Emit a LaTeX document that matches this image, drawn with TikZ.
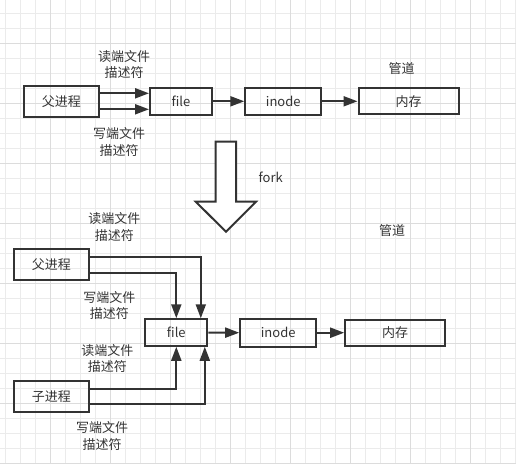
\documentclass[tikz,border=0pt]{standalone}
\usepackage{fontspec}
\setmainfont{Noto Sans CJK SC}
\usetikzlibrary{arrows.meta}
\definecolor{ink}{HTML}{333333}
\definecolor{gridminor}{HTML}{EBEBEB}
\definecolor{gridmajor}{HTML}{DCDCDC}
\begin{document}
\begin{tikzpicture}[x=1pt,y=-1pt,
    box/.style={draw=ink, line width=2pt, inner sep=0pt, text=ink,
      font=\fontsize{13}{16.5}\selectfont},
    lbl/.style={align=center, inner sep=0pt, text=ink,
      font=\fontsize{13}{16.5}\selectfont},
    arr/.style={draw=ink, line width=2pt, -{Triangle[length=14pt,width=10pt]}},
    gridline/.style={draw=gridminor, line width=1pt},
    gridbold/.style={draw=gridmajor, line width=1pt}]
    \useasboundingbox (0,0) rectangle (516,464);
    % background grid
    \foreach \gx in {5,20,...,515} \draw[gridline] (\gx,0) -- (\gx,464);
    \foreach \gy in {13,28,...,463} \draw[gridline] (0,\gy) -- (516,\gy);
    \foreach \gx in {50,110,...,470} \draw[gridbold] (\gx,0) -- (\gx,464);
    \foreach \gy in {43,103,...,463} \draw[gridbold] (0,\gy) -- (516,\gy);

    % before fork
    \node[box, minimum width=75pt, minimum height=31pt] (pa) at (61.3,101.3) {父进程};
    \node[box, minimum width=62pt, minimum height=27pt] (fi) at (181,101.3) {file};
    \node[box, minimum width=76pt, minimum height=27pt] (in) at (283.3,101.3) {inode};
    \node[box, minimum width=100pt, minimum height=26pt] (mem) at (408.5,101.3) {内存};
    \node[lbl] (rd1) at (124,64.5) {读端文件\\描述符};
    \node[lbl] (wr1) at (119,142) {写端文件\\描述符};
    \node[lbl] (pipe1) at (401.7,68.3) {管道};
    \draw[arr] ([yshift=8pt]pa.east) -- ([yshift=8pt]pa.east -| fi.west);
    \draw[arr] ([yshift=-8pt]pa.east) -- ([yshift=-8pt]pa.east -| fi.west);
    \draw[arr] (fi.east) -- (in.west);
    \draw[arr] (in.east) -- (in.east -| mem.west);

    % fork arrow
    \draw[draw=ink, line width=2pt, fill=white] (215.7,141.7) -- (236,141.7) -- (236,201.7)
      -- (256,201.7) -- (226,231.7) -- (195.7,201.7) -- (215.7,201.7) -- cycle;
    \node[lbl] (fork) at (270.7,177.3) {fork};

    % after fork
    \node[box, minimum width=75pt, minimum height=31pt] (pb) at (51.3,264.3) {父进程};
    \node[box, minimum width=75pt, minimum height=31pt] (ch) at (51.3,396.3) {子进程};
    \node[box, minimum width=62pt, minimum height=26.5pt] (f2) at (176.3,332.5) {file};
    \node[box, minimum width=76pt, minimum height=28pt] (in2) at (278.2,332.7) {inode};
    \node[box, minimum width=100pt, minimum height=26pt] (mem2) at (395.2,332.8) {内存};
    \node[lbl] (pipe2) at (392,230.7) {管道};
    \node[lbl] (rd2) at (114.3,227.2) {读端文件\\描述符};
    \node[lbl] (wr2) at (109.3,305.5) {写端文件\\描述符};
    \node[lbl] (rd3) at (107.3,358.3) {读端文件\\描述符};
    \node[lbl] (wr3) at (102,436.2) {写端文件\\描述符};
    \draw[arr] ([yshift=7.5pt]pb.east) -| ([xshift=24.5pt]f2.north);
    \draw[arr] ([yshift=-8.5pt]pb.east) -| (f2.north);
    \draw[arr] ([yshift=7.5pt]ch.east) -| (f2.south);
    \draw[arr] ([yshift=-8pt]ch.east) -| ([xshift=28.5pt]f2.south);
    \draw[arr] (f2.east) -- (in2.west);
    \draw[arr] (in2.east) -- (in2.east -| mem2.west);
\end{tikzpicture}
\end{document}
